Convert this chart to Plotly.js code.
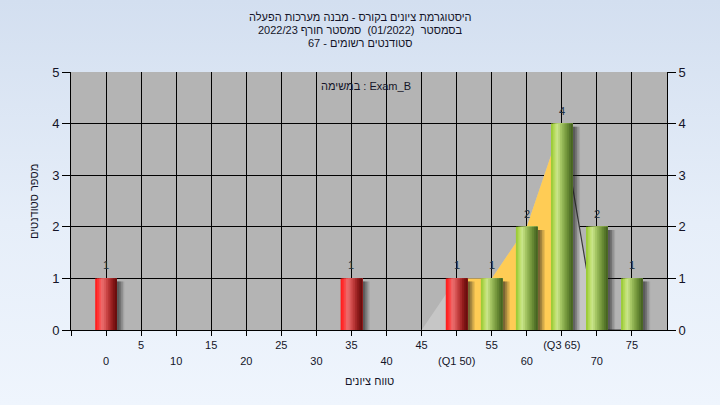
<!DOCTYPE html>
<html>
<head>
<meta charset="utf-8">
<script src="https://cdn.plot.ly/plotly-3.0.1.min.js"></script>
<style>
html,body{margin:0;padding:0;}
body{width:720px;height:405px;background:linear-gradient(to bottom,#d3dff0 0%,#e6eef9 55%,#eff5fd 100%);}
#chart{width:720px;height:405px;}
</style>
</head>
<body>
<div id="chart"></div>
<script>
// ---- data ----
const categories = [0,5,10,15,20,25,30,35,40,45,50,55,60,65,70,75];
const counts     = [1,0,0,0,0,0,0,1,0,0,1,1,2,4,2,1];
const passMark = 55;
const q1 = 50;
const q3 = 65;
const curveX = [45,50,55,60,65,70,75];
const curveY = [0,1,1,2,4,0,0];
const titleLines = [
  "היסטוגרמת ציונים בקורס - מבנה מערכות הפעלה",
  "בסמסטר  (01/2022)  סמסטר חורף 2022/23",
  "סטודנטים רשומים - 67"
];
const taskLabel = "במשימה : Exam_B";
const xTitle = "טווח ציונים";
const yTitle = "מספר סטודנטים";

// ---- helpers ----
const FONT = "Liberation Sans, Arial, DejaVu Sans, sans-serif";
const TXT = "#141428";

function tickLabel(v){
  if (v === q1) return "(Q1 " + v + ")";
  if (v === q3) return "(Q3 " + v + ")";
  return String(v);
}

const barX = [], barY = [], barFail = [];
categories.forEach((c,i)=>{ if(counts[i]>0){ barX.push(c); barY.push(counts[i]); barFail.push(c < passMark); } });

const W = 3.1;
const redGrad   = ['#ff2020','#ff3232','#f84c4c','#ee6868','#e46666','#d85656','#c84444','#b83636','#a42828','#901c1c','#7c1414','#6a0e0e'];
const greenGrad = ['#9ccc38','#aed652','#c0e070','#c8e48a','#b8d676','#a6c664','#94b656','#84a648','#74963c','#648632','#56762a','#486422'];
const N = redGrad.length;

const traces = [];
// area under distribution curve (base subplot, below bars)
traces.push({x: curveX, y: curveY, type:'scatter', mode:'lines', fill:'tozeroy',
  fillcolor:'#c6c6c6', line:{width:0, color:'rgba(0,0,0,0)'}, hoverinfo:'skip', xaxis:'x', yaxis:'y'});
const qx = [], qy = [];
curveX.forEach((v,i)=>{ if(v>=q1 && v<=q3){ qx.push(v); qy.push(curveY[i]); } });
traces.push({x: qx, y: qy, type:'scatter', mode:'lines', fill:'tozeroy',
  fillcolor:'#ffcc55', line:{width:0, color:'rgba(0,0,0,0)'}, hoverinfo:'skip', xaxis:'x', yaxis:'y'});
const lx = [], ly = [];
curveX.forEach((v,i)=>{ if(v>=q3){ lx.push(v); ly.push(curveY[i]); } });
traces.push({x: lx, y: ly, type:'scatter', mode:'lines', line:{width:1.2, color:'#3a3a3a'},
  hoverinfo:'skip', xaxis:'x', yaxis:'y'});

// soft shadows (right / below each bar)
const shadowSteps = [[1.05,'rgba(30,30,30,0.10)'],[0.85,'rgba(30,30,30,0.16)'],[0.6,'rgba(30,30,30,0.24)'],[0.35,'rgba(30,30,30,0.28)']];
shadowSteps.forEach(s=>{
  traces.push({x: barX, y: barY, base: barY.map(()=>-0.06), type:'bar', width: W,
    offset: -W/2 + s[0], marker:{color:s[1], line:{width:0}}, hoverinfo:'skip', xaxis:'x2', yaxis:'y2'});
});
// gradient bars: overlapping strips, each extends to the bar's right edge
for(let k=0;k<N;k++){
  traces.push({x: barX, y: barY, type:'bar', width: W - k*W/N, offset: -W/2 + k*W/N,
    marker:{color: barFail.map(f => f ? redGrad[k] : greenGrad[k]), line:{width:0}},
    hoverinfo:'skip', xaxis:'x2', yaxis:'y2'});
}

const allTicks = [-5].concat(categories);
const oddVals = categories.filter((c,i)=> i%2===1);
const evenVals = categories.filter((c,i)=> i%2===0);

const pxX = p => (p-71)/596;
const pxY = p => (330-p)/258;

const annotations = [];
titleLines.forEach((t,i)=>{
  annotations.push({text: t, xref:'paper', yref:'paper', x: pxX(360), y: pxY(17 + i*13),
    xanchor:'center', yanchor:'middle', showarrow:false, font:{family:FONT, size:11, color:TXT}});
});
annotations.push({text: taskLabel, xref:'paper', yref:'paper', x: pxX(366), y: pxY(86),
  xanchor:'center', yanchor:'middle', showarrow:false, font:{family:FONT, size:11, color:TXT}});
annotations.push({text: xTitle, xref:'paper', yref:'paper', x: pxX(369), y: pxY(381),
  xanchor:'center', yanchor:'middle', showarrow:false, font:{family:FONT, size:11, color:TXT}});
annotations.push({text: yTitle, xref:'paper', yref:'paper', x: pxX(34), y: pxY(202), textangle:-90,
  xanchor:'center', yanchor:'middle', showarrow:false, font:{family:FONT, size:11, color:TXT}});
// value labels above bars
barX.forEach((x,i)=>{
  annotations.push({text: String(barY[i]), xref:'x2', yref:'y2', x: x, y: barY[i], yshift: 5,
    xanchor:'center', yanchor:'bottom', showarrow:false, font:{family:FONT, size:11, color:'#203040'}});
});

const layout = {
  width:720, height:405,
  margin:{l:71, r:53, t:72, b:75, pad:0},
  paper_bgcolor:'rgba(0,0,0,0)',
  plot_bgcolor:'#b4b4b4',
  showlegend:false,
  barmode:'overlay',
  font:{family:FONT, color:TXT},
  xaxis:{range:[-5,80], tickmode:'array', tickvals: allTicks,
    ticktext: allTicks.map(v => oddVals.includes(v) ? tickLabel(v) : ''),
    ticks:'outside', ticklen:5, tickcolor:'#000', showgrid:true, gridcolor:'#000', gridwidth:1,
    showline:true, linecolor:'#000', linewidth:1, zeroline:false, fixedrange:true,
    tickfont:{family:FONT, size:11, color:TXT}},
  xaxis2:{range:[-5,80], overlaying:'x', anchor:'y2', side:'bottom', tickmode:'array', tickvals: evenVals,
    ticktext: evenVals.map(tickLabel), ticks:'', showgrid:false, showline:false, zeroline:false,
    ticklabelstandoff:23, tickfont:{family:FONT, size:11, color:TXT}},
  yaxis:{range:[0,5], dtick:1, ticks:'outside', ticklen:8, tickcolor:'#000', showgrid:true,
    gridcolor:'#000', gridwidth:1, showline:true, linecolor:'#000', zeroline:false,
    tickfont:{family:FONT, size:13, color:TXT}},
  yaxis2:{range:[0,5], dtick:1, overlaying:'y', anchor:'x2', side:'right', ticks:'outside', ticklen:8,
    tickcolor:'#000', showgrid:false, showline:true, linecolor:'#000', zeroline:false,
    tickfont:{family:FONT, size:13, color:TXT}},
  annotations: annotations
};

Plotly.newPlot('chart', traces, layout, {displayModeBar:false, staticPlot:true});
</script>
</body>
</html>
